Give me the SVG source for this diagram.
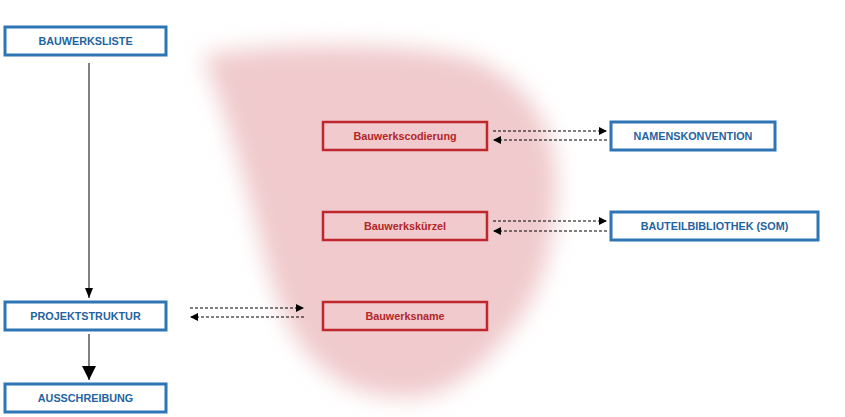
<svg xmlns="http://www.w3.org/2000/svg" width="845" height="417" viewBox="0 0 845 417">
<defs>
<filter id="blur" x="-20%" y="-20%" width="140%" height="140%"><feGaussianBlur stdDeviation="11"/></filter>
<marker id="ah" markerWidth="8" markerHeight="8" refX="8" refY="4" orient="auto" markerUnits="userSpaceOnUse"><path d="M0,0 L8,4 L0,8 Z" fill="#000"/></marker>
<marker id="ahs" markerWidth="10" markerHeight="8" refX="10" refY="4" orient="auto" markerUnits="userSpaceOnUse"><path d="M0,0 L10,4 L0,8 Z" fill="#000"/></marker>
<marker id="ahb" markerWidth="16" markerHeight="14" refX="14" refY="7" orient="auto" markerUnits="userSpaceOnUse"><path d="M0,0 L14,7 L0,14 Z" fill="#000"/></marker>
</defs>
<style>
.blue rect{fill:#fff;stroke:#2E75B6;stroke-width:3}
.blue text{fill:#1F64A0;font-family:"Liberation Sans",Arial,sans-serif;font-weight:bold;font-size:10.8px;text-anchor:middle}
.red rect{fill:none;stroke:#C0272D;stroke-width:2.5}
.red text{fill:#B3262B;font-family:"Liberation Sans",Arial,sans-serif;font-weight:bold;font-size:10.8px;text-anchor:middle}
.dash{stroke:#000;stroke-width:1;stroke-dasharray:3,2;fill:none}
.solid{stroke:#000;stroke-width:1;fill:none}
</style>
<rect width="845" height="417" fill="#fff"/>
<path id="blob" d="M203,56 C260,43 420,40 480,62 C530,85 555,130 556,175 C557,230 545,290 515,325 C485,365 450,397 410,397 C370,397 340,390 305,350 C280,320 268,270 258,230 C245,180 225,110 203,56 Z" fill="#F0CACC" filter="url(#blur)"/>
<g id="connectors">
<line class="solid" x1="89" y1="63" x2="89" y2="298" marker-end="url(#ahs)"/>
<line class="solid" x1="89" y1="334" x2="89" y2="380" marker-end="url(#ahb)"/>
<line class="dash" x1="493" y1="131" x2="607" y2="131" marker-end="url(#ah)"/>
<line class="dash" x1="607" y1="140" x2="493" y2="140" marker-end="url(#ah)"/>
<line class="dash" x1="493" y1="221" x2="607" y2="221" marker-end="url(#ah)"/>
<line class="dash" x1="607" y1="231" x2="493" y2="231" marker-end="url(#ah)"/>
<line class="dash" x1="190" y1="308" x2="304" y2="308" marker-end="url(#ah)"/>
<line class="dash" x1="304" y1="317" x2="190" y2="317" marker-end="url(#ah)"/>
</g>
<g id="bauwerksliste" class="blue"><rect x="5" y="27" width="161" height="28"/><text x="85.5" y="45">BAUWERKSLISTE</text></g>
<g id="projektstruktur" class="blue"><rect x="5" y="302" width="161" height="28"/><text x="85.5" y="320">PROJEKTSTRUKTUR</text></g>
<g id="ausschreibung" class="blue"><rect x="5" y="384" width="161" height="28"/><text x="85.5" y="402">AUSSCHREIBUNG</text></g>
<g id="namenskonvention" class="blue"><rect x="611" y="122" width="164" height="28"/><text x="693" y="140">NAMENSKONVENTION</text></g>
<g id="bauteilbibliothek" class="blue"><rect x="611" y="212" width="207" height="28"/><text x="714.5" y="230">BAUTEILBIBLIOTHEK (SOM)</text></g>
<g id="bauwerkscodierung" class="red"><rect x="323" y="122" width="164" height="28"/><text x="405" y="140">Bauwerkscodierung</text></g>
<g id="bauwerkskuerzel" class="red"><rect x="323" y="212" width="164" height="28"/><text x="405" y="230">Bauwerkskürzel</text></g>
<g id="bauwerksname" class="red"><rect x="323" y="302" width="164" height="28"/><text x="405" y="320">Bauwerksname</text></g>
</svg>
